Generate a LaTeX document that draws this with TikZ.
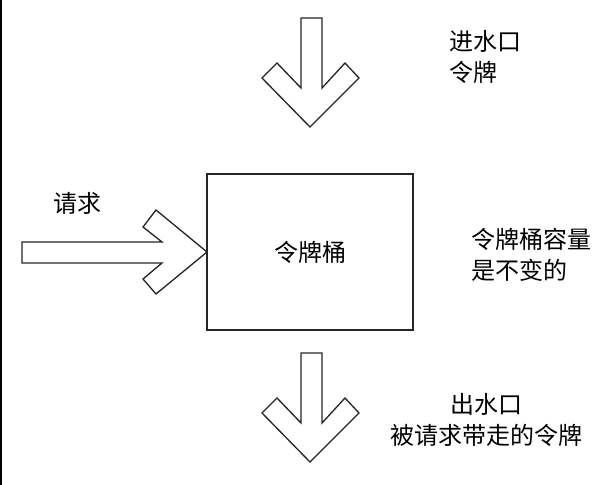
\documentclass[tikz,border=0pt]{standalone}
\usepackage{fontspec}
\newfontfamily\cjk{Noto Sans CJK SC}
\usepackage{tikz}
\usetikzlibrary{positioning}

\tikzset{
  hollow/.style={draw=black!85, line width=1pt, fill=white},
  lbl/.style={font=\cjk\fontsize{18}{23}\selectfont, align=left, inner sep=0pt}
}

\begin{document}
\begin{tikzpicture}[x=0.75pt,y=-0.75pt]
\useasboundingbox (0,0) rectangle (614,485);
\draw[line width=1pt] (1,0) -- (1,485);
% inlet arrow
\draw[hollow] (301,18) -- (322,18) -- (322,88) -- (345,63) -- (359,78) -- (310,127)
  -- (262,78) -- (277,63) -- (301,88) -- cycle;
% request arrow
\draw[hollow] (22,242) -- (162,242) -- (143,227) -- (156,210) -- (207,252)
  -- (156,294) -- (143,279) -- (162,263) -- (22,263) -- cycle;
% outlet arrow
\draw[hollow] (301,353) -- (322,353) -- (322,423) -- (345,398) -- (359,413) -- (310,462)
  -- (262,413) -- (277,398) -- (301,423) -- cycle;
% bucket
\node[draw=black!85, line width=1pt, minimum width=206*0.75pt, minimum height=156*0.75pt,
  inner sep=0pt] (bucket) at (310,252) {};
\node[lbl] (bucketlbl) at (bucket.center) {令牌桶};
\node[lbl] (inlet) at (485,57) {进水口\\令牌};
\node[lbl] (req) at (77,203) {请求};
\node[lbl] (cap) at (531,255) {令牌桶容量\\是不变的};
\node[lbl, align=center] (outlet) at (486,420) {出水口\\被请求带走的令牌};
\end{tikzpicture}
\end{document}
